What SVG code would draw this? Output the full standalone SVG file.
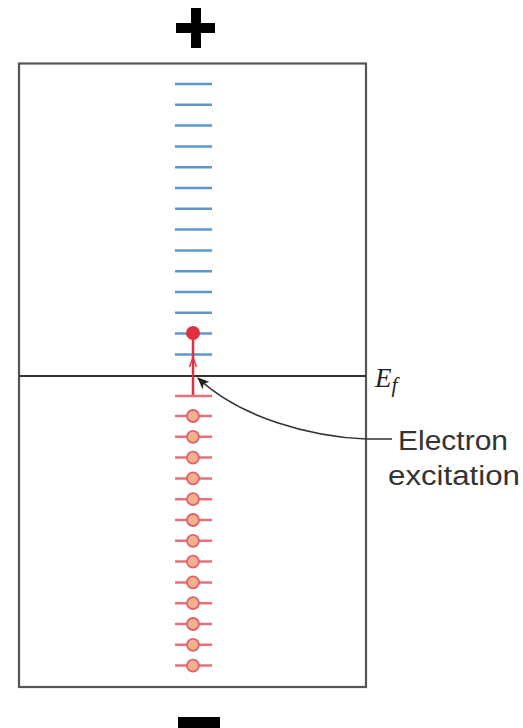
<svg xmlns="http://www.w3.org/2000/svg" width="523" height="728" viewBox="0 0 523 728">
<defs>
<style>
.blue{stroke:#5f97cc;stroke-width:2.5}
.rl{stroke:#e8707c;stroke-width:2.5}
.occ{fill:#f2b08e;stroke:#e2606c;stroke-width:1.8}
.lbl{font-family:"Liberation Sans",Arial,sans-serif;font-size:27px;fill:#333}
</style>
<marker id="ah" viewBox="0 0 12 10" refX="11" refY="5" markerWidth="12" markerHeight="10" markerUnits="userSpaceOnUse" orient="auto">
<path d="M0,0 L12,5 L0,10 L3,5 Z" fill="#222"/>
</marker>
</defs>
<rect width="523" height="728" fill="#fff"/>
<g id="plus"><rect x="176" y="23" width="39" height="10" fill="#000"/><rect x="191" y="8" width="10" height="40" fill="#000"/></g>
<g id="minus"><rect x="178" y="717" width="42" height="12" fill="#000"/></g>
<g id="box"><rect x="19" y="63.5" width="347" height="623.5" fill="none" stroke="#555" stroke-width="2.2"/></g>
<g id="fermi-level"><line x1="19" y1="376" x2="366" y2="376" stroke="#333" stroke-width="2"/>
<text x="375" y="387" font-family="'Liberation Serif',serif" font-style="italic" font-size="27" fill="#222">E<tspan font-size="21" dy="5">f</tspan></text></g>
<g id="empty-levels">
<line class="blue" x1="175" y1="84" x2="212" y2="84"/>
<line class="blue" x1="175" y1="104.8" x2="212" y2="104.8"/>
<line class="blue" x1="175" y1="125.6" x2="212" y2="125.6"/>
<line class="blue" x1="175" y1="146.4" x2="212" y2="146.4"/>
<line class="blue" x1="175" y1="167.2" x2="212" y2="167.2"/>
<line class="blue" x1="175" y1="188" x2="212" y2="188"/>
<line class="blue" x1="175" y1="208.8" x2="212" y2="208.8"/>
<line class="blue" x1="175" y1="229.6" x2="212" y2="229.6"/>
<line class="blue" x1="175" y1="250.4" x2="212" y2="250.4"/>
<line class="blue" x1="175" y1="271.2" x2="212" y2="271.2"/>
<line class="blue" x1="175" y1="292" x2="212" y2="292"/>
<line class="blue" x1="175" y1="312.8" x2="212" y2="312.8"/>
<line class="blue" x1="175" y1="333.6" x2="212" y2="333.6"/>
<line class="blue" x1="175" y1="354.4" x2="212" y2="354.4"/>
</g>
<g id="excited-electron">
<line x1="193" y1="333" x2="193" y2="396" stroke="#e0303f" stroke-width="2.5"/>
<path d="M189.5,367 L193,357 L196.5,367" fill="none" stroke="#e0303f" stroke-width="1.4"/>
<line class="rl" x1="175" y1="396" x2="212" y2="396"/>
<circle cx="193" cy="333" r="7" fill="#e0303f"/>
</g>
<g id="filled-levels">
<g transform="translate(0,416)"><line class="rl" x1="175" y1="0" x2="212" y2="0"/><circle class="occ" cx="193" cy="0" r="6"/></g>
<g transform="translate(0,436.8)"><line class="rl" x1="175" y1="0" x2="212" y2="0"/><circle class="occ" cx="193" cy="0" r="6"/></g>
<g transform="translate(0,457.6)"><line class="rl" x1="175" y1="0" x2="212" y2="0"/><circle class="occ" cx="193" cy="0" r="6"/></g>
<g transform="translate(0,478.4)"><line class="rl" x1="175" y1="0" x2="212" y2="0"/><circle class="occ" cx="193" cy="0" r="6"/></g>
<g transform="translate(0,499.2)"><line class="rl" x1="175" y1="0" x2="212" y2="0"/><circle class="occ" cx="193" cy="0" r="6"/></g>
<g transform="translate(0,520)"><line class="rl" x1="175" y1="0" x2="212" y2="0"/><circle class="occ" cx="193" cy="0" r="6"/></g>
<g transform="translate(0,540.8)"><line class="rl" x1="175" y1="0" x2="212" y2="0"/><circle class="occ" cx="193" cy="0" r="6"/></g>
<g transform="translate(0,561.6)"><line class="rl" x1="175" y1="0" x2="212" y2="0"/><circle class="occ" cx="193" cy="0" r="6"/></g>
<g transform="translate(0,582.4)"><line class="rl" x1="175" y1="0" x2="212" y2="0"/><circle class="occ" cx="193" cy="0" r="6"/></g>
<g transform="translate(0,603.2)"><line class="rl" x1="175" y1="0" x2="212" y2="0"/><circle class="occ" cx="193" cy="0" r="6"/></g>
<g transform="translate(0,624)"><line class="rl" x1="175" y1="0" x2="212" y2="0"/><circle class="occ" cx="193" cy="0" r="6"/></g>
<g transform="translate(0,644.8)"><line class="rl" x1="175" y1="0" x2="212" y2="0"/><circle class="occ" cx="193" cy="0" r="6"/></g>
<g transform="translate(0,665.6)"><line class="rl" x1="175" y1="0" x2="212" y2="0"/><circle class="occ" cx="193" cy="0" r="6"/></g>
</g>
<g id="label"><text class="lbl" x="398" y="450" textLength="110" lengthAdjust="spacingAndGlyphs">Electron</text>
<text class="lbl" x="388" y="485" textLength="132" lengthAdjust="spacingAndGlyphs">excitation</text></g>
<g id="connectors"><path d="M392,439 L366,439 C312,437 240,418 198,378" fill="none" stroke="#333" stroke-width="1.6" marker-end="url(#ah)"/></g>
</svg>
